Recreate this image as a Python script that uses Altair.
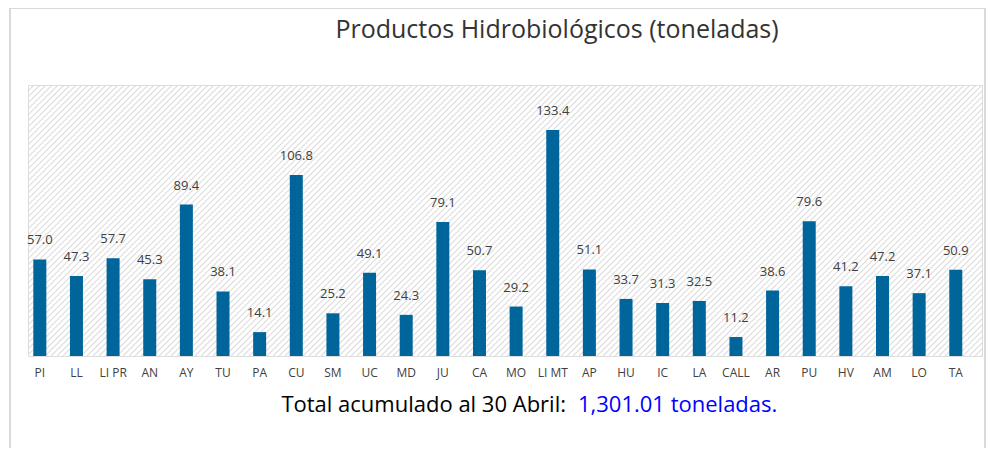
import altair as alt
import pandas as pd

categories = ["PI", "LL", "LI PR", "AN", "AY", "TU", "PA", "CU", "SM", "UC", "MD", "JU", "CA",
              "MO", "LI MT", "AP", "HU", "IC", "LA", "CALL", "AR", "PU", "HV", "AM", "LO", "TA"]
values = [57.0, 47.3, 57.7, 45.3, 89.4, 38.1, 14.1, 106.8, 25.2, 49.1, 24.3, 79.1, 50.7,
          29.2, 133.4, 51.1, 33.7, 31.3, 32.5, 11.2, 38.6, 79.6, 41.2, 47.2, 37.1, 50.9]
title_text = "Productos Hidrobiológicos (toneladas)"
total_label = "Total acumulado al 30 Abril:"
total_value = "1,301.01 toneladas."

W, H = 954, 271
FONT = "Open Sans"

df = pd.DataFrame({"cat": categories, "val": values})
one = pd.DataFrame({"a": [0]})

x_enc = alt.X(
    "cat:N", sort=categories,
    scale=alt.Scale(range=[-6.5, 946.1], paddingInner=0.645, paddingOuter=0.3225),
    axis=alt.Axis(title=None, labelAngle=0, ticks=False, domain=False, labelPadding=11,
                  labelFontSize=12, labelColor="#404040", labelFont=FONT, grid=False),
)
y_enc = alt.Y("val:Q", scale=alt.Scale(domain=[0, 160]), axis=None)

# hatched background of the plot area
hatch = (
    alt.Chart(alt.sequence(-H, W + 6, 6, as_="k"))
    .transform_calculate(k2="datum.k + %d" % H, y0="0", y1="%d" % H)
    .mark_rule(color="#dcdcdc", strokeWidth=1.1, clip=True)
    .encode(
        x=alt.X("k:Q", scale=alt.Scale(domain=[0, W], nice=False, zero=False), axis=None),
        x2="k2:Q",
        y=alt.Y("y0:Q", scale=alt.Scale(domain=[0, H], nice=False), axis=None),
        y2="y1:Q",
    )
)

base = alt.Chart(df)
bars = base.mark_bar(color="#00659a").encode(x=x_enc, y=y_enc)
labels = base.mark_text(baseline="middle", dy=-19, fontSize=13, color="#404040", font=FONT).encode(
    x=alt.X("cat:N", sort=categories), y="val:Q", text=alt.Text("val:Q", format=".1f")
)
bar_layer = alt.layer(bars, labels)

border = alt.Chart(one).mark_rect(fill=None, stroke="#d9d9d9", strokeWidth=2).encode(
    x=alt.value(-18), x2=alt.value(957), y=alt.value(-77), y2=alt.value(400)
)
title = alt.Chart(one).mark_text(fontSize=25, color="#333333", font=FONT, baseline="middle", align="center").encode(
    x=alt.value(529), y=alt.value(-55), text=alt.value(title_text)
)
tot1 = alt.Chart(one).mark_text(fontSize=22, color="#000000", font=FONT, baseline="middle", align="right").encode(
    x=alt.value(538), y=alt.value(320), text=alt.value(total_label)
)
tot2 = alt.Chart(one).mark_text(fontSize=22, color="#0000ff", font=FONT, baseline="middle", align="left").encode(
    x=alt.value(550), y=alt.value(320), text=alt.value(total_value)
)

chart = (
    alt.layer(hatch, bar_layer, border, title, tot1, tot2)
    .resolve_scale(x="independent", y="independent")
    .properties(width=W, height=H, autosize=alt.AutoSizeParams(type="none"),
                padding={"left": 20, "top": 77, "right": 5, "bottom": 92})
    .configure_view(stroke="transparent")
    .configure(background="white")
)

chart.save("out.html", embed_options={"renderer": "svg", "actions": False})
